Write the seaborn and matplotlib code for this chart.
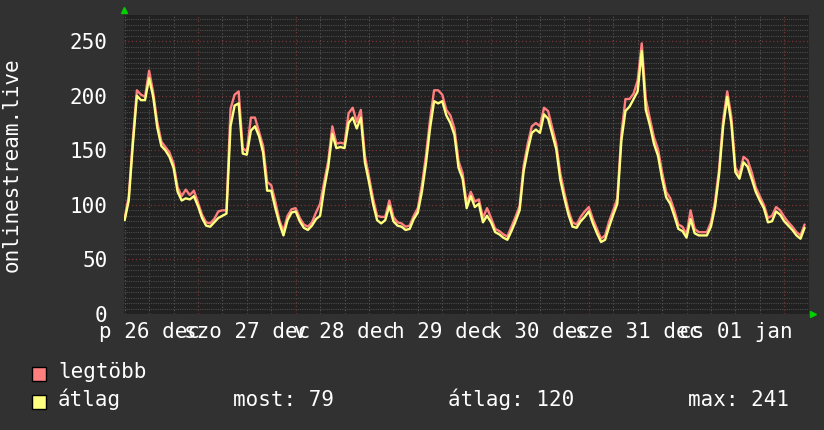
import numpy as np
import pandas as pd
import matplotlib
matplotlib.use("Agg")
import matplotlib.pyplot as plt
import matplotlib.dates as mdates
from matplotlib.ticker import MultipleLocator, NullFormatter
from matplotlib.patches import Rectangle
import seaborn as sns

# ---------------- data ----------------
start_time = "2014-12-26 06:00"   # hourly samples
avg_values = [
    86, 104, 155, 200, 196, 196, 216, 199, 171, 154,
    150, 144, 134, 112, 104, 106, 105, 108, 99, 88,
    81, 80, 84, 88, 90, 92, 172, 191, 193, 147,
    146, 168, 172, 163, 148, 113, 113, 97, 83, 72,
    86, 93, 94, 85, 79, 77, 81, 87, 90, 115,
    135, 165, 152, 153, 152, 175, 180, 170, 180, 139,
    121, 101, 86, 83, 86, 99, 85, 81, 80, 77,
    78, 87, 93, 112, 138, 170, 195, 193, 195, 182,
    175, 164, 134, 124, 97, 108, 98, 101, 84, 90,
    84, 75, 73, 70, 68, 76, 85, 95, 131, 150,
    166, 169, 166, 183, 179, 165, 151, 123, 106, 91,
    80, 79, 85, 89, 94, 83, 74, 66, 68, 80,
    91, 101, 159, 186, 190, 197, 204, 241, 187, 173,
    156, 145, 124, 107, 101, 90, 78, 76, 70, 87,
    74, 72, 72, 72, 80, 98, 128, 172, 199, 175,
    130, 124, 139, 135, 124, 112, 104, 97, 84, 85,
    94, 91, 85, 81, 77, 72, 69, 79,
]
max_values = [
    88, 108, 160, 205, 201, 199, 223, 203, 176, 158,
    153, 148, 138, 116, 108, 114, 109, 113, 102, 91,
    84, 83, 87, 94, 95, 95, 188, 201, 204, 152,
    149, 180, 180, 167, 154, 121, 118, 103, 86, 76,
    90, 96, 97, 88, 82, 80, 84, 93, 101, 121,
    140, 172, 156, 157, 156, 184, 189, 176, 187, 145,
    126, 106, 90, 89, 89, 104, 89, 84, 83, 80,
    81, 90, 97, 118, 145, 178, 205, 205, 201, 187,
    182, 170, 140, 129, 101, 112, 103, 105, 88, 97,
    88, 78, 76, 73, 71, 80, 89, 99, 136, 156,
    172, 175, 172, 189, 186, 171, 156, 129, 111, 95,
    84, 82, 89, 94, 98, 87, 78, 69, 72, 85,
    95, 106, 165, 197, 197, 202, 214, 248, 197, 179,
    162, 151, 130, 112, 106, 95, 82, 80, 73, 95,
    78, 75, 75, 75, 84, 103, 133, 178, 204, 181,
    134, 128, 144, 141, 130, 116, 108, 100, 88, 90,
    98, 95, 89, 84, 80, 75, 72, 82,
]
series_names = ["legtöbb", "átlag"]
series_colors = ["#FF7F7F", "#FFFF80"]
day_names = ["p", "szo", "v", "h", "k", "sze", "cs"]
day_dates = ["26 dec", "27 dec", "28 dec", "29 dec", "30 dec", "31 dec", "01 jan"]
label_noons = pd.date_range("2014-12-26 12:00", periods=7, freq="D")
stat_labels = ["most", "átlag", "max"]
stat_values = [79, 120, 241]
y_title = "onlinestream.live"
x_limits = (pd.Timestamp("2014-12-26 05:50"), pd.Timestamp("2015-01-02 06:05"))
y_limits = (0, 274)

# ---------------- figure ----------------
FIG_BG = "#313131"
PLOT_BG = "#212121"
TEXT = "#ffffff"
FS = 15

sns.set_style("dark")
plt.rcParams["font.family"] = ["DejaVu Sans Mono", "DejaVu Sans"]

n = len(avg_values)
times = pd.date_range(start_time, periods=n, freq="h")
df = pd.DataFrame({
    "time": list(times) + list(times),
    "value": max_values + avg_values,
    "series": [series_names[0]] * n + [series_names[1]] * n,
})

fig = plt.figure(figsize=(8.24, 4.30), dpi=100, facecolor=FIG_BG)
W, H = 824, 430
L, R, T, B = 124, 809, 15, 314
ax = fig.add_axes([L / W, 1 - B / H, (R - L) / W, (B - T) / H])
ax.set_facecolor(PLOT_BG)
ax.set_axisbelow(True)

sns.lineplot(data=df, x="time", y="value", hue="series", hue_order=series_names,
             palette=series_colors, linewidth=1.7,
             estimator=None, legend=False, ax=ax)

ax.set_xlim(*x_limits)
ax.set_ylim(*y_limits)

ax.yaxis.set_major_locator(MultipleLocator(50))
ax.yaxis.set_minor_locator(MultipleLocator(5))
ax.xaxis.set_major_locator(mdates.HourLocator(byhour=[0]))
ax.xaxis.set_minor_locator(mdates.HourLocator(byhour=[6, 12, 18]))
ax.xaxis.set_major_formatter(NullFormatter())
ax.xaxis.set_minor_formatter(NullFormatter())

ax.grid(which="minor", axis="y", color="#4c4c4c", linestyle=(0, (1, 1)), linewidth=0.8)
ax.grid(which="minor", axis="x", color="#5a5a5a", linestyle=(0, (1, 2)), linewidth=0.8)
ax.grid(which="major", color="#7a3434", linestyle=(0, (1, 2)), linewidth=0.9)

ax.tick_params(which="both", length=0)
ax.tick_params(axis="y", labelcolor=TEXT, labelsize=FS, pad=12)
ax.set_xlabel("")
ax.set_ylabel("")
for s in ax.spines.values():
    s.set_visible(False)

# axis arrows
ax.plot([0], [1.017], marker="^", color="#00d000", markersize=5, transform=ax.transAxes, clip_on=False)
ax.plot([1.006], [0.0], marker=">", color="#00d000", markersize=5, transform=ax.transAxes, clip_on=False)

# day labels centered on noon
for t, dn, dd in zip(label_noons, day_names, day_dates):
    ax.text(t, -24 / (B - T), f"{dn} {dd}", transform=ax.get_xaxis_transform(),
            ha="center", va="baseline", color=TEXT, fontsize=FS, clip_on=False)

# y title
fig.text(12 / W, 1 - ((T + B) / 2) / H, y_title, rotation=90, ha="center", va="center",
         color=TEXT, fontsize=FS)

# legend
rows = [378, 406]
for i, (name, col) in enumerate(zip(series_names, series_colors)):
    fig.add_artist(Rectangle((32 / W, 1 - (rows[i] + 3) / H), 14 / W, 14 / H,
                             facecolor=col, edgecolor="#000000", linewidth=1,
                             transform=fig.transFigure))
    fig.text(58 / W, 1 - rows[i] / H, name, ha="left", va="baseline", color=TEXT, fontsize=FS)

stat_x = [233, 448, 688]
for sx, lab, val in zip(stat_x, stat_labels, stat_values):
    fig.text(sx / W, 1 - rows[1] / H, f"{lab}: {val}", ha="left", va="baseline",
             color=TEXT, fontsize=FS)

fig.savefig("out.png", dpi=100, facecolor=FIG_BG)
